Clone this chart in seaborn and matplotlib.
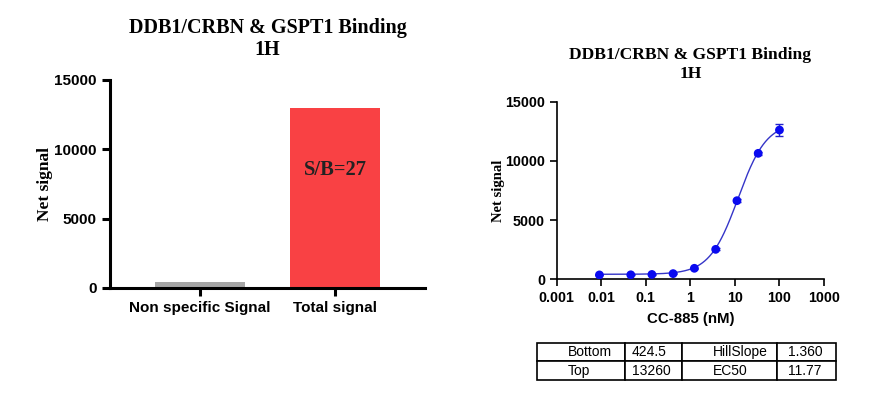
import numpy as np
import pandas as pd
import matplotlib
matplotlib.use("Agg")
import matplotlib.pyplot as plt
import seaborn as sns

# dane - wykres slupkowy
bar_labels = ["Non specific Signal", "Total signal"]
bar_values = [420, 13000]
bar_colors = ["#a6a6a6", "#f94144"]
sb_text = "S/B=27"

# dane - krzywa dawka-odpowiedz
conc_nm = [0.0091, 0.046, 0.137, 0.41, 1.23, 3.7, 11.1, 33.3, 100]
signal = [370, 380, 410, 480, 930, 2530, 6640, 10640, 12610]
signal_err = [20, 30, 30, 40, 60, 90, 150, 150, 500]

# parametry dopasowania (tabela)
fit_names = ["Bottom", "Top", "HillSlope", "EC50"]
fit_text = ["424.5", "13260", "1.360", "11.77"]
bottom, top, hill, ec50 = 424.5, 13260, 1.360, 11.77

x_ticks = [0.001, 0.01, 0.1, 1, 10, 100, 1000]
x_tick_labels = ["0.001", "0.01", "0.1", "1", "10", "100", "1000"]
y_ticks = [0, 5000, 10000, 15000]

title = "DDB1/CRBN & GSPT1 Binding\n1H"

sns.set_style("ticks")
plt.rcParams["font.family"] = ["Liberation Sans", "DejaVu Sans"]
for k in ["text.color", "axes.labelcolor", "xtick.color", "ytick.color", "axes.edgecolor"]:
    plt.rcParams[k] = "black"

fig = plt.figure(figsize=(8.95, 3.95), dpi=100)

# ==========================================
# LEWY WYKRES
# ==========================================
ax1 = fig.add_axes([0.1229, 0.2709, 0.352, 0.5266])
df_bar = pd.DataFrame({"cat": bar_labels, "val": bar_values})
sns.barplot(data=df_bar, x="cat", y="val", hue="cat", palette=bar_colors,
            legend=False, width=0.667, saturation=1, ax=ax1, linewidth=0)
ax1.set_xlim(-0.667, 1.667)
ax1.set_ylim(0, 15000)
ax1.set_yticks(y_ticks)
ax1.set_xlabel("")
ax1.set_ylabel("Net signal", family="Liberation Serif", fontweight="bold", fontsize=12.5, labelpad=1)
ax1.set_title(title, family="Liberation Serif", fontweight="bold", fontsize=14.5, pad=18, linespacing=1.15)
for s in ["top", "right"]:
    ax1.spines[s].set_visible(False)
for s in ["left", "bottom"]:
    ax1.spines[s].set_linewidth(2.2)
ax1.tick_params(width=2.2, length=6, labelsize=11)
for lab in ax1.get_xticklabels() + ax1.get_yticklabels():
    lab.set_fontweight("bold")
ax1.text(1, 8500, sb_text, ha="center", va="center", family="Liberation Serif",
         fontweight="bold", fontsize=14.8, color="#222222")

# ==========================================
# PRAWY WYKRES
# ==========================================
ax2 = fig.add_axes([0.622, 0.2929, 0.2987, 0.4496])
xs = np.logspace(np.log10(conc_nm[0]), np.log10(conc_nm[-1]), 300)
curve = bottom + (top - bottom) / (1 + (ec50 / xs) ** hill)
sns.lineplot(x=xs, y=curve, color="#3535c8", linewidth=1.0, ax=ax2)
ax2.errorbar(conc_nm, signal, yerr=signal_err, fmt="none", ecolor="#2222cc",
             elinewidth=1.0, capsize=3, capthick=1.0)
sns.scatterplot(x=conc_nm, y=signal, color="#0a0af0", s=40, edgecolor="none", ax=ax2, zorder=3)
ax2.set_xscale("log")
ax2.set_xlim(0.001, 1000)
ax2.set_ylim(0, 15000)
ax2.set_xticks(x_ticks)
ax2.set_xticklabels(x_tick_labels)
ax2.minorticks_off()
ax2.set_yticks(y_ticks)
ax2.set_xlabel("CC-885 (nM)", fontweight="bold", fontsize=10.8, labelpad=5)
ax2.set_ylabel("Net signal", family="Liberation Serif", fontweight="bold", fontsize=10.5, labelpad=0)
ax2.set_title(title, family="Liberation Serif", fontweight="bold", fontsize=12.6, pad=17, linespacing=1.3)
for s in ["top", "right"]:
    ax2.spines[s].set_visible(False)
for s in ["left", "bottom"]:
    ax2.spines[s].set_linewidth(1.2)
ax2.tick_params(width=1.2, length=5, labelsize=10.3)
for lab in ax2.get_xticklabels() + ax2.get_yticklabels():
    lab.set_fontweight("bold")

# ==========================================
# TABELA
# ==========================================
cell_text = [[fit_names[0], fit_text[0], fit_names[2], fit_text[2]],
             [fit_names[1], fit_text[1], fit_names[3], fit_text[3]]]
tab = fig.add_axes([0.6, 0.038, 0.334, 0.0944])
tab.axis("off")
col_w = [0.294, 0.191, 0.318, 0.197]
pads = [0.35, 0.117, 0.326, 0.186]
table = tab.table(cellText=cell_text, colWidths=col_w, cellLoc="left", bbox=[0, 0, 1, 1])
table.auto_set_font_size(False)
for (r, c), cell in table.get_celld().items():
    cell.set_linewidth(1.2)
    cell.set_edgecolor("black")
    cell.PAD = pads[c]
    cell.get_text().set_fontsize(10)
    cell.get_text().set_family("Liberation Sans")

fig.savefig("out.png", dpi=100)
